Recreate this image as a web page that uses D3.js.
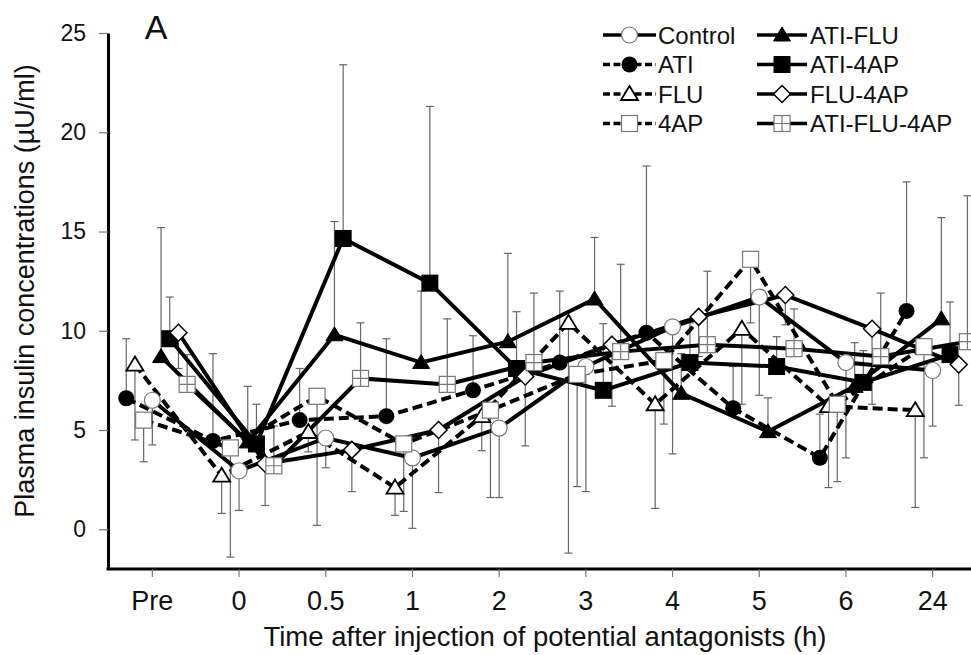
<!DOCTYPE html>
<html><head><meta charset="utf-8">
<script src="https://cdn.jsdelivr.net/npm/d3@7"></script>
<style>body{margin:0;background:#fff}</style>
</head><body><svg id="c" width="971" height="655"></svg>
<script>
// ---- data ----
const categories = ["Pre","0","0.5","1","2","3","4","5","6","24"];
const seriesNames = ["Control","ATI","FLU","4AP","ATI-FLU","ATI-4AP","FLU-4AP","ATI-FLU-4AP"];
const yTicks = [0,5,10,15,20,25];
const control      = [6.5, 2.95, 4.6, 3.6, 5.1, 8.2, 10.2, 11.7, 8.4, 8.0];
const controlErr   = [-2.25,-2.0,-1.5,-3.55,-3.5,-6.3,-6.4,-4.95,-4.8,-2.8];
const ati          = [6.6, 4.45, 5.5, 5.7, 7.0, 8.4, 9.9, 6.1, 3.6, 11.0];
const atiErr       = [3.0, 4.4, 2.6, 3.9, 2.75, 3.6, 8.4, 2.1, 2.2, 6.5];
const flu          = [8.3, 2.7, 4.9, 2.1, 5.7, 10.4, 6.3, 10.1, 6.2, 6.0];
const fluErr       = [-3.8,-1.9,-1.0,-1.4,-1.74,-11.6,-5.25,-3.8,-4.1,-4.9];
const ap4          = [5.5, 4.1, 6.7, 4.3, 6.0, 7.8, 8.5, 13.6, 6.3, 9.2];
const ap4Err       = [-2.1,-5.5,-6.5,-3.4,-4.4,-5.65,-3.2,-3.2,-3.9,-5.6];
const atiFlu       = [8.7, 4.4, 9.8, 8.4, 9.45, 11.6, 6.85, 4.92, 7.2, 10.6];
const atiFluErr    = [6.5, 2.8, 5.7, 3.6, 4.45, 3.1, 2.0, 1.7, 2.2, 5.1];
const ati4ap       = [9.6, 4.3, 14.65, 12.4, 8.1, 7.0, 8.4, 8.2, 7.4, 8.8];
const ati4apErr    = [2.1, 2.0, 8.75, 8.9, 2.86, 3.36, 2.0, 1.5, 1.6, 2.65];
const flu4ap       = [9.9, 3.3, 4.0, 5.0, 7.7, 9.3, 10.7, 11.8, 10.1, 8.3];
const flu4apErr    = [-1.8,-2.1,-2.1,-3.15,-3.5,-3.1,-2.0,-1.5,-3.8,-2.05];
const atiFlu4ap    = [7.3, 3.2, 7.6, 7.3, 8.4, 8.95, 9.3, 9.1, 8.7, 9.45];
const atiFlu4apErr = [1.5, 2.0, 2.8, 3.3, 3.5, 4.4, 3.7, 2.0, 3.2, 7.35];

// ---- styles (not data) ----
const seriesData = [
  {values:control, err:controlErr},
  {values:ati, err:atiErr},
  {values:flu, err:fluErr},
  {values:ap4, err:ap4Err},
  {values:atiFlu, err:atiFluErr},
  {values:ati4ap, err:ati4apErr},
  {values:flu4ap, err:flu4apErr},
  {values:atiFlu4ap, err:atiFlu4apErr}
];
const style = [
  {dodge:0,  dashed:false, marker:"circleOpen"},
  {dodge:-3, dashed:true,  marker:"circleFilled"},
  {dodge:-2, dashed:true,  marker:"triOpen"},
  {dodge:-1, dashed:true,  marker:"squareOpen"},
  {dodge:1,  dashed:false, marker:"triFilled"},
  {dodge:2,  dashed:false, marker:"squareFilled"},
  {dodge:3,  dashed:false, marker:"diamondOpen"},
  {dodge:4,  dashed:false, marker:"squareCross"}
];
const DODGE = 8.7;
const FONT = "'Liberation Sans', Arial, Helvetica, sans-serif";

const svg = d3.select("#c");
svg.append("rect").attr("width",971).attr("height",655).attr("fill","#fff");

const x = d3.scaleBand().domain(categories).range([109,976]);
const y = d3.scaleLinear().domain([-2,25]).range([569,33]);
const cx = (cat, k) => x(cat) + x.bandwidth()/2 + style[k].dodge*DODGE;

// axes
const gy = svg.append("g").attr("transform","translate(108,0)")
  .call(d3.axisLeft(y).tickValues(yTicks).tickSize(9).tickSizeOuter(0).tickPadding(13));
gy.select(".domain").attr("stroke","#000").attr("stroke-width",3);
gy.selectAll(".tick line").attr("stroke","#777").attr("stroke-width",1.2);
gy.selectAll(".tick text").attr("font-family",FONT).attr("font-size",23).attr("fill","#111");

const gx = svg.append("g").attr("transform","translate(0,569)")
  .call(d3.axisBottom(x).tickSize(8).tickSizeOuter(0).tickPadding(14));
gx.select(".domain").attr("stroke","#000").attr("stroke-width",3).attr("d","M106.5,0H976");
gx.selectAll(".tick line").attr("stroke","#777").attr("stroke-width",1.2);
gx.selectAll(".tick text").attr("font-family",FONT).attr("font-size",27).attr("fill","#111");

// titles
svg.append("text").attr("x",545).attr("y",646).attr("text-anchor","middle")
  .attr("font-family",FONT).attr("font-size",27.5).attr("fill","#111")
  .text("Time after injection of potential antagonists (h)");
svg.append("text").attr("transform","translate(34,291) rotate(-90)").attr("text-anchor","middle")
  .attr("font-family",FONT).attr("font-size",27).attr("fill","#111")
  .text("Plasma insulin concentrations (\u00b5U/ml)");
svg.append("text").attr("x",156).attr("y",39).attr("text-anchor","middle")
  .attr("font-family",FONT).attr("font-size",34).attr("fill","#111").text("A");

const plot = svg.append("g");
// error bars
seriesData.forEach((s,k)=>{
  s.values.forEach((v,i)=>{
    const xx = cx(categories[i],k), y0 = y(v), y1 = y(v + s.err[i]);
    plot.append("line").attr("x1",xx).attr("x2",xx).attr("y1",y0).attr("y2",y1)
      .attr("stroke","#666").attr("stroke-width",1.2);
    plot.append("line").attr("x1",xx-4).attr("x2",xx+4).attr("y1",y1).attr("y2",y1)
      .attr("stroke","#666").attr("stroke-width",1.2);
  });
});
// lines
seriesData.forEach((s,k)=>{
  const line = d3.line().x((d,i)=>cx(categories[i],k)).y(d=>y(d));
  plot.append("path").attr("d",line(s.values)).attr("fill","none")
    .attr("stroke","#000").attr("stroke-width",4)
    .attr("stroke-dasharray", style[k].dashed ? "10,5" : null);
});

function marker(g, type, px, py){
  const r = 8;
  if(type==="circleOpen"){
    g.append("circle").attr("cx",px).attr("cy",py).attr("r",r).attr("fill","#fff").attr("stroke","#777").attr("stroke-width",1.2);
  } else if(type==="circleFilled"){
    g.append("circle").attr("cx",px).attr("cy",py).attr("r",r).attr("fill","#000");
  } else if(type==="triOpen" || type==="triFilled"){
    const p = `M${px},${py-8}L${px+8.5},${py+6}L${px-8.5},${py+6}Z`;
    g.append("path").attr("d",p).attr("fill", type==="triOpen"?"#fff":"#000").attr("stroke","#000").attr("stroke-width",type==="triOpen"?1.8:1);
  } else if(type==="squareOpen"){
    g.append("rect").attr("x",px-8).attr("y",py-8).attr("width",16).attr("height",16).attr("fill","#fff").attr("stroke","#777").attr("stroke-width",1.2);
  } else if(type==="squareFilled"){
    g.append("rect").attr("x",px-8.5).attr("y",py-8.5).attr("width",17).attr("height",17).attr("fill","#000");
  } else if(type==="diamondOpen"){
    const p = `M${px},${py-8.5}L${px+8.5},${py}L${px},${py+8.5}L${px-8.5},${py}Z`;
    g.append("path").attr("d",p).attr("fill","#fff").attr("stroke","#000").attr("stroke-width",1.5);
  } else if(type==="squareCross"){
    g.append("rect").attr("x",px-8).attr("y",py-8).attr("width",16).attr("height",16).attr("fill","#fff").attr("stroke","#777").attr("stroke-width",1.2);
    g.append("path").attr("d",`M${px},${py-8}V${py+8}M${px-8},${py}H${px+8}`).attr("stroke","#777").attr("stroke-width",1.2);
  }
}
// markers
seriesData.forEach((s,k)=>{
  s.values.forEach((v,i)=> marker(plot, style[k].marker, cx(categories[i],k), y(v)));
});

// legend
const legCols = [{x0:603,x1:656,tx:658},{x0:757,x1:807,tx:810}];
const legRows = [35,64.5,94,123.5];
seriesNames.forEach((name,k)=>{
  const col = legCols[k<4?0:1], ry = legRows[k%4];
  const mx = (col.x0+col.x1)/2;
  svg.append("line").attr("x1",col.x0).attr("x2",col.x1).attr("y1",ry).attr("y2",ry)
    .attr("stroke","#000").attr("stroke-width",3.5)
    .attr("stroke-dasharray", style[k].dashed ? "7,3.5" : null);
  marker(svg, style[k].marker, mx, ry);
  svg.append("text").attr("x",col.tx).attr("y",ry+8.5).attr("font-family",FONT)
    .attr("font-size",24).attr("fill","#111").text(name);
});
</script>
</body></html>
